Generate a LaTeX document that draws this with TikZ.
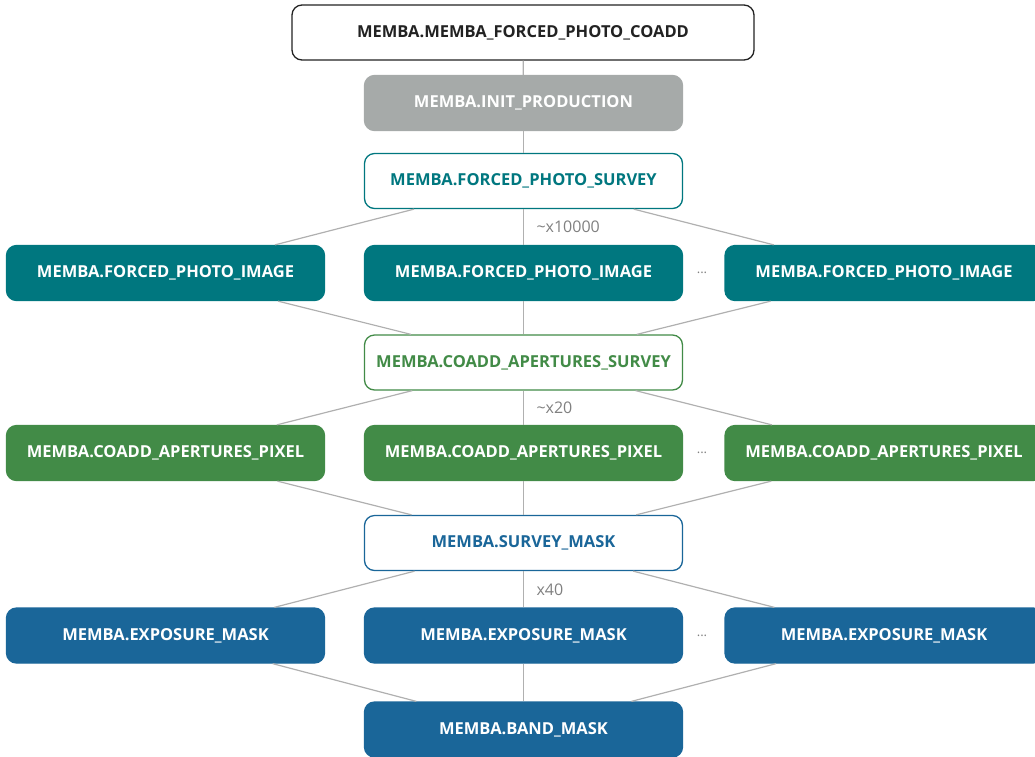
\documentclass[tikz,border=0pt]{standalone}
\usepackage{fontspec}
\setmainfont{Open Sans}
\definecolor{teal}{HTML}{00777F}
\definecolor{leaf}{HTML}{428B47}
\definecolor{sea}{HTML}{1A6699}
\definecolor{stone}{HTML}{A6AAA9}
\definecolor{wire}{HTML}{B0B0B0}
\definecolor{ink}{HTML}{222222}
\begin{document}
\begin{tikzpicture}[x=1pt,y=1pt,
  task/.style={rectangle,rounded corners=10pt,minimum width=318pt,minimum height=55pt,
    inner sep=0pt,line width=1.3pt,font=\fontsize{16.5}{19}\selectfont\bfseries},
  solid task/.style={task,fill=#1,draw=#1,text=white},
  open task/.style={task,fill=white,draw=#1,text=#1},
  count/.style={anchor=west,text=gray,font=\fontsize{16}{18}\selectfont},
  more/.style={text=gray,font=\fontsize{13}{14}\selectfont}]
\useasboundingbox (0,0) rectangle (1035,-756);
\clip (0,0) rectangle (1035,-756);
\node [open task=ink,minimum width=462pt] (coadd) at (523,-32.5) {MEMBA.MEMBA\_FORCED\_PHOTO\_COADD};
\node [solid task=stone] (init) at (523.5,-103) {MEMBA.INIT\_PRODUCTION};
\node [open task=teal] (fsurvey) at (523.5,-181) {MEMBA.FORCED\_PHOTO\_SURVEY};
\node [solid task=teal] (image1) at (165.5,-273) {MEMBA.FORCED\_PHOTO\_IMAGE};
\node [solid task=teal] (image2) at (523.5,-273) {MEMBA.FORCED\_PHOTO\_IMAGE};
\node [solid task=teal] (image3) at (884,-273) {MEMBA.FORCED\_PHOTO\_IMAGE};
\node [more] (dots1) at (702,-273) {...};
\node [open task=leaf] (csurvey) at (523.5,-362.5) {MEMBA.COADD\_APERTURES\_SURVEY};
\node [solid task=leaf] (pixel1) at (165.5,-453) {MEMBA.COADD\_APERTURES\_PIXEL};
\node [solid task=leaf] (pixel2) at (523.5,-453) {MEMBA.COADD\_APERTURES\_PIXEL};
\node [solid task=leaf] (pixel3) at (884,-453) {MEMBA.COADD\_APERTURES\_PIXEL};
\node [more] (dots2) at (702,-453) {...};
\node [open task=sea] (smask) at (523.5,-543) {MEMBA.SURVEY\_MASK};
\node [solid task=sea] (exposure1) at (165.5,-635.5) {MEMBA.EXPOSURE\_MASK};
\node [solid task=sea] (exposure2) at (523.5,-635.5) {MEMBA.EXPOSURE\_MASK};
\node [solid task=sea] (exposure3) at (884,-635.5) {MEMBA.EXPOSURE\_MASK};
\node [more] (dots3) at (702,-635.5) {...};
\node [solid task=sea] (band) at (523.5,-729.5) {MEMBA.BAND\_MASK};
% counts
\node [count] (n1) at (533,-227) {\textasciitilde x10000};
\node [count] (n2) at (533,-408) {\textasciitilde x20};
\node [count] (n3) at (533,-590) {x40};
% links
\begin{scope}[wire,line width=1.2pt]
\draw (coadd) -- (init);
\draw (init) -- (fsurvey);
\foreach \i in {1,2,3} {
  \draw (fsurvey) -- (image\i);
  \draw (image\i) -- (csurvey);
  \draw (csurvey) -- (pixel\i);
  \draw (pixel\i) -- (smask);
  \draw (smask) -- (exposure\i);
  \draw (exposure\i) -- (band);
}
\end{scope}
\end{tikzpicture}
\end{document}
